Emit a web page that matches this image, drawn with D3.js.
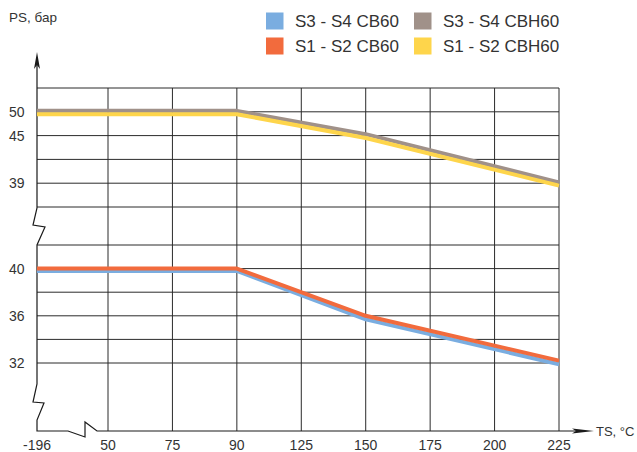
<!DOCTYPE html>
<html>
<head>
<meta charset="utf-8">
<script src="https://cdn.jsdelivr.net/npm/d3@7"></script>
<style>
	body { margin: 0; background: #fff; }
	text { font-family: "Liberation Sans", Arial, Helvetica, sans-serif; fill: #333; }
</style>
</head>
<body>
<svg width="637" height="452"></svg>
<script>
//Tick labels of the x axis (they are categories, not a linear temperature scale)
var ticksX = ["-196", "50", "75", "90", "125", "150", "175", "200", "225"];
//Temperatures where the curves bend
var pointsX = ["-196", "90", "150", "225"];

//Pressure values, bar
var s3s4CB60 = [39.8, 39.8, 35.7, 31.9];
var s1s2CB60 = [40.0, 40.0, 36.0, 32.2];
var s3s4CBH60 = [50.2, 50.2, 45.3, 39.1];
var s1s2CBH60 = [49.5, 49.5, 44.7, 38.7];

//Labels on the two parts of the broken y axis
var ticksUpper = [50, 45, 39];
var ticksLower = [40, 36, 32];

var legendNames = ["S3 - S4 CB60", "S1 - S2 CB60", "S3 - S4 CBH60", "S1 - S2 CBH60"];
var colors = ["#7aade0", "#f26b3d", "#a09189", "#fed54b"];

var svg = d3.select("svg");

//x: first interval is wider than the others
var xPos = d3.scaleLinear().domain([0, 1, ticksX.length - 1]).range([37, 108, 559]);
function x(label) { return xPos(ticksX.indexOf(label)); }

//Grid rows of the two panels
var rowUpper = d3.scaleLinear().domain([0, 5]).range([88, 207]);
var rowLower = d3.scaleLinear().domain([0, 5]).range([245, 363]);
var baseY = 431;

//Value scales (the upper one is schematic, not linear)
var yUpper = d3.scaleLinear().domain([39, 45, 50]).range([rowUpper(4), rowUpper(2), rowUpper(1)]);
var yLower = d3.scaleLinear().domain([32, 40]).range([rowLower(5), rowLower(1)]);

var grid = svg.append("g")
	.attr("stroke", "#2b2b2b")
	.attr("stroke-width", 1)
	.attr("fill", "none");

//Horizontal lines
grid.selectAll("line.h")
	.data(d3.range(6).map(rowUpper).concat(d3.range(6).map(rowLower)))
	.enter()
	.append("line")
	.attr("class", "h")
	.attr("x1", xPos(0)).attr("x2", xPos(ticksX.length - 1))
	.attr("y1", function (d) { return d; })
	.attr("y2", function (d) { return d; });

//Vertical lines
grid.selectAll("line.v")
	.data(ticksX.slice(1))
	.enter()
	.append("line")
	.attr("class", "v")
	.attr("x1", x).attr("x2", x)
	.attr("y1", rowUpper(0)).attr("y2", baseY);

//Axes with the break marks
var x0 = xPos(0);
var axisPath = d3.path();
axisPath.moveTo(x0, 62);
axisPath.lineTo(x0, rowUpper(5) + 1);
axisPath.lineTo(x0 - 4, 225);
axisPath.lineTo(x0 + 8, 227);
axisPath.lineTo(x0, rowLower(0));
axisPath.lineTo(x0, 384);
axisPath.lineTo(x0 - 4, 402);
axisPath.lineTo(x0 + 7, 403);
axisPath.lineTo(x0, 420);
axisPath.lineTo(x0, baseY);
axisPath.lineTo(68, baseY);
axisPath.lineTo(85, 437);
axisPath.lineTo(85, 422);
axisPath.lineTo(97, baseY);
axisPath.lineTo(578, baseY);

svg.append("path")
	.attr("d", axisPath.toString())
	.attr("fill", "none")
	.attr("stroke", "#1a1a1a")
	.attr("stroke-width", 1.2);

//Arrow heads
svg.append("path")
	.attr("d", "M" + x0 + ",52 L" + (x0 + 3) + ",69 L" + x0 + ",65 L" + (x0 - 3) + ",69 Z")
	.attr("fill", "#1a1a1a");
svg.append("path")
	.attr("d", "M594," + baseY + " L572," + (baseY - 2.5) + " L576," + baseY + " L572," + (baseY + 2.5) + " Z")
	.attr("fill", "#1a1a1a");

//Curves
var lineUpper = d3.line()
	.x(function (d, i) { return x(pointsX[i]); })
	.y(function (d) { return yUpper(d); });
var lineLower = d3.line()
	.x(function (d, i) { return x(pointsX[i]); })
	.y(function (d) { return yLower(d); });

var curves = [
	{ values: s3s4CB60, line: lineLower, color: colors[0] },
	{ values: s1s2CB60, line: lineLower, color: colors[1] },
	{ values: s3s4CBH60, line: lineUpper, color: colors[2] },
	{ values: s1s2CBH60, line: lineUpper, color: colors[3] }
];

svg.append("g")
	.selectAll("path")
	.data(curves)
	.enter()
	.append("path")
	.attr("d", function (d) { return d.line(d.values); })
	.attr("fill", "none")
	.attr("stroke", function (d) { return d.color; })
	.attr("stroke-width", 4)
	.attr("stroke-linejoin", "round");

//Tick labels
svg.append("g")
	.selectAll("text")
	.data(ticksUpper)
	.enter()
	.append("text")
	.attr("x", 24.5)
	.attr("y", function (d) { return yUpper(d); })
	.attr("dy", "0.35em")
	.attr("text-anchor", "end")
	.style("font-size", "14px")
	.text(function (d) { return d; });

svg.append("g")
	.selectAll("text")
	.data(ticksLower)
	.enter()
	.append("text")
	.attr("x", 24.5)
	.attr("y", function (d) { return yLower(d); })
	.attr("dy", "0.35em")
	.attr("text-anchor", "end")
	.style("font-size", "14px")
	.text(function (d) { return d; });

svg.append("g")
	.selectAll("text")
	.data(ticksX)
	.enter()
	.append("text")
	.attr("x", x)
	.attr("y", 450)
	.attr("text-anchor", "middle")
	.style("font-size", "14px")
	.text(function (d) { return d; });

//Axis titles
svg.append("text")
	.attr("x", 9).attr("y", 21.5)
	.style("font-size", "13.5px")
	.text("PS, бар");
svg.append("text")
	.attr("x", 596).attr("y", 436)
	.style("font-size", "13px")
	.text("TS, °C");

//Legend, two columns
var legendG = svg.append("g")
	.selectAll("g")
	.data(legendNames)
	.enter()
	.append("g")
	.attr("transform", function (d, i) {
		return "translate(" + (266 + Math.floor(i / 2) * 148) + ", " + (12.5 + (i % 2) * 25) + ")";
	});

legendG.append("rect")
	.attr("width", 17.5)
	.attr("height", 17)
	.attr("fill", function (d, i) { return colors[i]; });

legendG.append("text")
	.attr("x", 29)
	.attr("y", 14.5)
	.style("font-size", "17px")
	.text(function (d) { return d; });
</script>
</body>
</html>
